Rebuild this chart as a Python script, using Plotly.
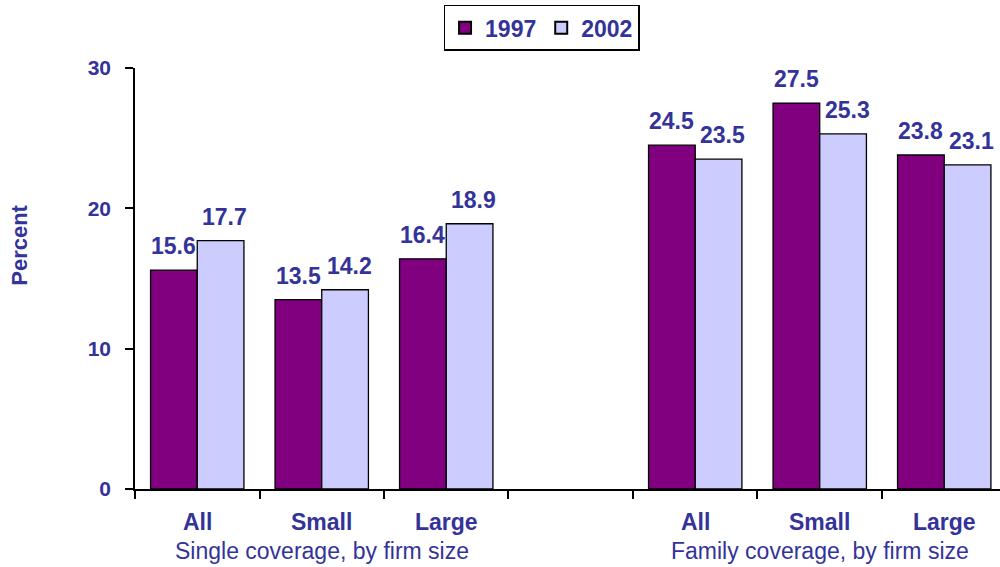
import plotly.graph_objects as go

categories = ["All", "Small", "Large", "", "All", "Small", "Large"]
positions = [0, 1, 2, 4, 5, 6]
labels_by_pos = ["All", "Small", "Large", "All", "Small", "Large"]
values_1997 = [15.6, 13.5, 16.4, 24.5, 27.5, 23.8]
values_2002 = [17.7, 14.2, 18.9, 23.5, 25.3, 23.1]
group_labels = ["Single coverage, by firm size", "Family coverage, by firm size"]
group_centers = [1, 5]
y_ticks = [0, 10, 20, 30]

TEXT = "#333399"
FONT = "Liberation Sans, Arial, sans-serif"
C1997 = "#800080"
C2002 = "#CCCCFF"
BARGAP = 0.25

fig = go.Figure()
fig.add_trace(go.Bar(x=positions, y=values_1997, name="1997",
                     marker=dict(color=C1997, line=dict(color="black", width=1.3))))
fig.add_trace(go.Bar(x=positions, y=values_2002, name="2002",
                     marker=dict(color=C2002, line=dict(color="black", width=1.3))))

off = (1 - BARGAP) / 4
annotations = []
for x, v in zip(positions, values_1997):
    annotations.append(dict(x=x - off, y=v, xref="x", yref="y", text=f"<b>{v:.1f}</b>",
                            showarrow=False, yanchor="bottom", yshift=9,
                            font=dict(size=23, color=TEXT, family=FONT)))
for x, v in zip(positions, values_2002):
    annotations.append(dict(x=x + off, y=v, xref="x", yref="y", text=f"<b>{v:.1f}</b>",
                            showarrow=False, yanchor="bottom", yshift=9, xshift=4,
                            font=dict(size=23, color=TEXT, family=FONT)))
for x, lab in zip(positions, labels_by_pos):
    annotations.append(dict(x=x, y=-0.078, xref="x", yref="paper", text=f"<b>{lab}</b>",
                            showarrow=False, yanchor="middle",
                            font=dict(size=23, color=TEXT, family=FONT)))
for x, lab in zip(group_centers, group_labels):
    annotations.append(dict(x=x, y=-0.147, xref="x", yref="paper", text=lab,
                            showarrow=False, yanchor="middle",
                            font=dict(size=23, color=TEXT, family=FONT)))
annotations.append(dict(x=-0.133, y=0.58, xref="paper", yref="paper", text="<b>Percent</b>",
                        textangle=-90, showarrow=False, xanchor="center", yanchor="middle",
                        font=dict(size=22, color=TEXT, family=FONT)))

fig.update_layout(
    width=1000, height=567,
    margin=dict(l=135, r=0, t=68, b=78),
    paper_bgcolor="white", plot_bgcolor="white",
    barmode="group", bargap=BARGAP, bargroupgap=0,
    font=dict(family=FONT, color=TEXT),
    showlegend=True,
    legend=dict(orientation="h", x=0.47, xanchor="center", y=1.15, yanchor="top",
                bordercolor="black", borderwidth=1.5, bgcolor="white",
                font=dict(size=23, color=TEXT, family=FONT, weight="bold"),
                itemsizing="constant", traceorder="normal", itemwidth=30,
                tracegroupgap=0),
    annotations=annotations,
)
fig.update_xaxes(range=[-0.5, 6.448], tickmode="array",
                 tickvals=[-0.5, 0.5, 1.5, 2.5, 3.5, 4.5, 5.5, 6.5],
                 ticktext=[""] * 8, ticks="outside", ticklen=8, tickcolor="black", tickwidth=1.5,
                 showline=True, linecolor="black", linewidth=1.5, showgrid=False, zeroline=False)
fig.update_yaxes(range=[0, 30], tickmode="array", tickvals=y_ticks,
                 ticks="outside", ticklen=8, tickcolor="black", tickwidth=1.5,
                 showline=True, linecolor="black", linewidth=1.5, showgrid=False, zeroline=False,
                 ticklabelstandoff=10,
                 tickfont=dict(size=21, color=TEXT, family=FONT, weight="bold"))

fig.write_html("out.html")
